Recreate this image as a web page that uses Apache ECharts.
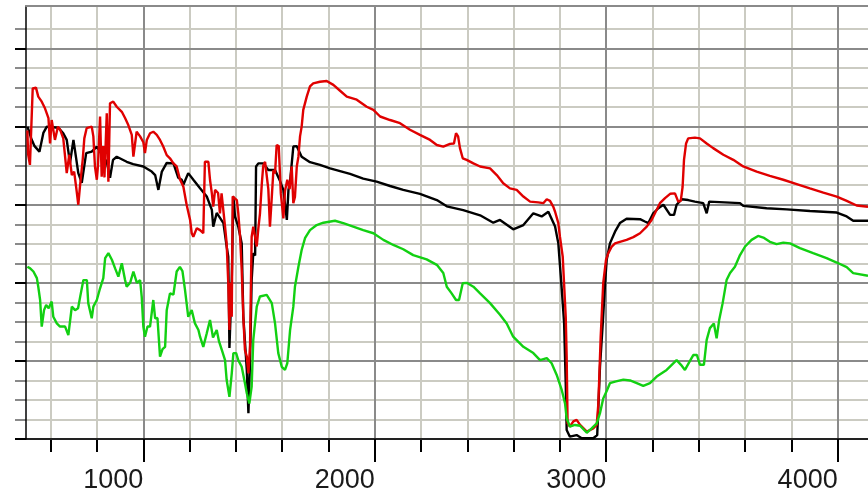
<!DOCTYPE html>
<html><head><meta charset="utf-8">
<script src="https://cdn.jsdelivr.net/npm/echarts@6/dist/echarts.min.js"></script>
<style>html,body{margin:0;padding:0;background:#fff}#c{width:868px;height:491px}</style>
</head><body><div id="c"></div>
<script>
// x range and tick values
const xMin = 493, xMax = 4131;
const yMin = 0, yMax = 110.9;
const xMajorTicks = [1000, 2000, 3000, 4000];
const xMinorTicks = [600, 800, 1200, 1400, 1600, 1800, 2200, 2400, 2600, 2800, 3200, 3400, 3600, 3800];
const yMajorTicks = [0, 20, 40, 60, 80, 100];
const yMinorTicks = [5, 10, 15, 25, 30, 35, 45, 50, 55, 65, 70, 75, 85, 90, 95, 105];

// series: [wavenumber, value]
const blackSeries = [[499,80],[503,80],[507,78.7],[515,77],[530,75],[551,73.6],[568,78.4],[583,80],[633,79.7],[654,78.3],[669,76.6],[683,70.7],[698,76.6],[719,68.1],[734,65.6],[741,65.1],[753,73.2],[777,73.6],[799,74.9],[842,71],[856,66.9],[869,71.5],[885,72.3],[928,71],[956,70.4],[1000,69.8],[1036,68.5],[1051,67.6],[1065,63.8],[1080,68.5],[1101,70.7],[1130,70.6],[1151,66.9],[1166,66.4],[1173,65.1],[1194,68.1],[1216,66.4],[1245,64.2],[1274,62.1],[1296,58.7],[1302,54.4],[1317,57.9],[1346,55.3],[1360,49.3],[1367,46.7],[1372,23.3],[1382,40.7],[1389,62.1],[1396,57],[1410,54.4],[1425,50.1],[1432,31.3],[1447,17.7],[1454,6.6],[1461,20],[1468,40.7],[1475,47.6],[1483,47],[1487,69.8],[1497,70.6],[1518,70.6],[1540,68.9],[1569,68.9],[1591,66],[1605,63.8],[1620,56.1],[1627,63.8],[1634,66],[1648,74.9],[1663,75],[1684,72.3],[1720,70.9],[1763,70.2],[1807,69.3],[1893,67.9],[1950,66.7],[2008,65.9],[2066,64.8],[2123,63.8],[2195,62.8],[2268,61.2],[2311,59.6],[2382,58.6],[2455,57.3],[2512,55.4],[2541,56.1],[2598,53.7],[2606,53.5],[2642,54.8],[2685,57.8],[2721,57],[2750,58.2],[2779,54.4],[2793,50.1],[2808,38.2],[2818,29.7],[2825,14.3],[2829,2.3],[2843,0.6],[2872,1],[2894,0.2],[2944,0.2],[2961,1],[2973,18.5],[2985,29.6],[2995,39.9],[3002,45.9],[3016,50.1],[3038,53.1],[3059,55.3],[3088,56.4],[3146,56.3],[3167,55.7],[3182,55.3],[3203,57.8],[3225,59.1],[3247,60],[3276,57.4],[3293,57.4],[3304,60],[3326,61.4],[3354,61.2],[3383,60.8],[3419,60.4],[3434,57.8],[3445,60.8],[3578,60.4],[3592,59.7],[3693,59.1],[3780,58.8],[3880,58.4],[3996,58],[4039,57],[4067,55.9],[4131,55.9]];

const redSeries = [[499,79],[502,73],[510,70.2],[522,89.8],[536,90],[546,87.7],[561,86.4],[575,84.7],[590,82.2],[597,75.7],[604,81.7],[618,76.6],[631,80],[640,79.3],[654,77],[669,68.1],[680,72.8],[691,67.6],[701,68.5],[712,63.4],[719,60],[726,64.6],[738,71.5],[745,77],[755,79.6],[777,80],[784,77.5],[791,69.8],[799,66.4],[804,70],[813,82.6],[820,67.2],[827,75],[832,67],[842,83.4],[849,65.9],[856,86],[870,86.4],[885,85.1],[907,83.8],[921,82.2],[935,80.4],[950,77.9],[957,72.3],[971,78.7],[986,77.5],[1000,76],[1007,73.2],[1015,76.6],[1029,78.3],[1043,78.7],[1058,77.9],[1072,76.6],[1086,74.9],[1101,72.7],[1115,71.9],[1130,70.6],[1144,69.8],[1158,66.5],[1173,64.6],[1187,60],[1202,56.1],[1209,52.7],[1216,51.8],[1231,54],[1245,53.5],[1259,52.7],[1266,71],[1281,71],[1288,66.4],[1296,62.9],[1302,59.5],[1310,63.8],[1323,63],[1331,57.8],[1338,62.9],[1353,54.4],[1360,50.1],[1367,39.9],[1372,27.9],[1376,40],[1382,31.3],[1386,62.1],[1392,62.5],[1404,61.2],[1410,58],[1418,51.8],[1425,43.3],[1432,31.3],[1439,22.8],[1447,21.1],[1454,16.8],[1461,24],[1468,51.8],[1475,54.4],[1483,54],[1490,49.3],[1497,54],[1504,57.8],[1512,65.5],[1518,70],[1526,71],[1533,70.6],[1540,64],[1547,54.4],[1555,62],[1562,68.9],[1569,68],[1576,75.3],[1585,75],[1594,62.9],[1605,56.5],[1612,63.5],[1622,66.4],[1632,64],[1641,69.8],[1648,60.4],[1655,62],[1663,69.8],[1670,72.3],[1677,77.5],[1684,80],[1691,84.3],[1706,87.7],[1720,90.3],[1734,91.1],[1763,91.5],[1792,91.7],[1821,90.7],[1850,89.2],[1879,87.7],[1922,86.9],[1965,85.1],[1994,84.3],[2023,82.6],[2066,81.7],[2109,80.9],[2152,79.2],[2195,77.9],[2239,76.6],[2268,75.3],[2296,74.9],[2325,75.6],[2342,75.7],[2351,78.3],[2360,77.5],[2368,74.5],[2380,71.9],[2397,71.5],[2426,70.6],[2455,69.8],[2498,69.3],[2527,67.6],[2555,65.5],[2584,64.2],[2613,63.8],[2642,62.1],[2671,60.8],[2706,60.6],[2728,60.4],[2743,61.4],[2757,61],[2771,59.5],[2779,58.2],[2793,55.3],[2800,51.8],[2812,46.7],[2825,31.3],[2829,21.1],[2833,4],[2843,3.2],[2858,4.5],[2872,4.9],[2887,3.6],[2916,1.9],[2944,2.7],[2959,3.6],[2966,9.1],[2976,26.2],[2987,39.9],[2999,45.9],[3009,47.6],[3024,49.3],[3038,50.1],[3059,50.5],[3088,51],[3117,51.7],[3146,52.7],[3175,54.4],[3196,56.1],[3218,58.7],[3232,60.4],[3254,61.7],[3276,62.8],[3297,62.9],[3311,60.8],[3322,61],[3330,64.6],[3336,71.5],[3345,75.7],[3354,77],[3383,77.2],[3405,77],[3434,75.7],[3462,74.5],[3506,72.8],[3549,71.5],[3592,69.8],[3650,68.5],[3707,67.4],[3765,66.4],[3823,65.3],[3880,64.2],[3938,63.1],[3996,62.1],[4039,61],[4082,59.8],[4131,59.5]];

const greenSeries = [[499,44.1],[511,43.7],[525,42.9],[540,41.2],[546,39],[554,35.6],[561,28.8],[571,33],[580,34.3],[591,33.5],[604,35.2],[611,31.3],[626,29.6],[640,28.8],[662,28.8],[676,26.6],[691,33.9],[705,33],[718,33.5],[727,36.4],[741,40.7],[756,40.7],[762,34.8],[777,30.9],[784,33.9],[799,35.6],[813,38.6],[827,41.2],[835,46.3],[849,47.6],[864,45.9],[878,43.7],[892,41.6],[907,45],[921,40.7],[928,39],[943,40],[957,42.9],[972,40],[986,40.7],[993,36.4],[1000,28.8],[1007,26.2],[1018,28.8],[1029,28.8],[1043,35.6],[1051,30.9],[1061,31],[1072,21.1],[1083,23],[1094,23.6],[1101,33],[1115,37.3],[1130,37],[1144,42.9],[1158,44.1],[1169,43],[1180,38.2],[1194,31.3],[1209,33],[1223,29.6],[1238,27.9],[1245,26.2],[1259,23.6],[1274,27.1],[1288,30.5],[1301,26],[1317,27.9],[1327,25],[1339,22.8],[1353,20.2],[1360,15.1],[1372,10.8],[1382,16.8],[1389,22],[1401,22],[1410,20.2],[1425,18.5],[1439,14.3],[1447,11.7],[1458,9.1],[1468,13.4],[1475,25.4],[1490,33.9],[1504,36.5],[1533,36.9],[1555,34.8],[1569,29.6],[1583,22],[1598,18.5],[1612,17.7],[1622,19.4],[1634,27.9],[1648,33.9],[1655,39],[1670,44.1],[1684,48.4],[1699,51.5],[1720,53.5],[1749,54.8],[1778,55.4],[1828,55.9],[1867,55.2],[1907,54.4],[1950,53.5],[1994,52.7],[2037,51],[2080,49.7],[2123,48.6],[2166,47.1],[2224,46],[2268,44.6],[2296,42.5],[2311,39],[2332,37.3],[2351,35.6],[2364,35.6],[2380,39.9],[2397,40],[2426,39],[2455,37.3],[2498,34.8],[2541,31.8],[2570,29.6],[2598,26.2],[2642,23.6],[2685,22],[2714,20.2],[2743,20.7],[2764,19.4],[2786,16.4],[2808,12.5],[2822,9.1],[2829,5.3],[2843,3.2],[2865,3.6],[2887,3.4],[2916,1.6],[2937,2.7],[2959,4],[2973,6.6],[2987,10.4],[3002,12.3],[3016,14.3],[3038,14.7],[3074,15.2],[3103,15],[3132,14.3],[3160,13.6],[3189,14.3],[3218,16],[3261,17.7],[3304,20.2],[3323,19],[3340,17.7],[3357,19.5],[3376,21.5],[3392,21.5],[3405,19],[3422,19],[3434,25.4],[3448,28.4],[3465,29.6],[3477,25.8],[3488,30.5],[3503,34.8],[3520,40.7],[3535,42.5],[3556,44.1],[3578,47.1],[3600,49.3],[3628,51],[3656,52],[3682,51.5],[3707,50.5],[3736,49.9],[3765,50.3],[3794,50.1],[3837,48.9],[3894,47.6],[3952,46.3],[3996,45.2],[4039,44],[4067,42.5],[4131,41.8]];

const MAJOR = '#8a8a8a', MINOR = '#cbcbc2';
const chart = echarts.init(document.getElementById('c'), null, {renderer: 'canvas'});
const xBase = {type: 'value', min: xMin, max: xMax, gridIndex: 0};
const yBase = {type: 'value', min: yMin, max: yMax, gridIndex: 0, position: 'left'};
chart.setOption({
  animation: false,
  backgroundColor: '#ffffff',
  grid: {left: 26, right: 0, top: 6, bottom: 52, containLabel: false, outerBoundsMode: 'none'},
  xAxis: [
    Object.assign({}, xBase, {
      position: 'bottom', z: 0,
      axisLine: {show: false},
      axisTick: {show: true, customValues: xMinorTicks, length: 13, lineStyle: {color: '#000', width: 2}},
      axisLabel: {show: false},
      splitLine: {show: true, lineStyle: {color: MINOR, width: 2}}
    }),
    Object.assign({}, xBase, {
      position: 'bottom', z: 2,
      axisLine: {show: true, onZero: false, lineStyle: {color: '#000', width: 1.5}},
      axisTick: {show: true, customValues: xMajorTicks, length: 23, lineStyle: {color: '#000', width: 2}},
      axisLabel: {show: true, customValues: xMajorTicks, formatter: function (v) { return String(v); }, fontSize: 27, fontFamily: 'Liberation Sans, Arial, sans-serif', color: '#1a1a1a', align: 'right', margin: 28},
      splitLine: {show: true, lineStyle: {color: MAJOR, width: 2}}
    }),
    Object.assign({}, xBase, {
      position: 'top', z: 2,
      axisLine: {show: true, onZero: false, lineStyle: {color: MAJOR, width: 2}},
      axisTick: {show: false}, axisLabel: {show: false}, splitLine: {show: false}
    })
  ],
  yAxis: [
    Object.assign({}, yBase, {
      z: 0,
      axisLine: {show: false},
      axisTick: {show: true, customValues: yMinorTicks, length: 11, lineStyle: {color: '#8a8a8a', width: 2}},
      axisLabel: {show: false},
      splitLine: {show: true, lineStyle: {color: MINOR, width: 2}}
    }),
    Object.assign({}, yBase, {
      z: 2,
      axisLine: {show: true, onZero: false, lineStyle: {color: '#000', width: 1.5}},
      axisTick: {show: true, customValues: yMajorTicks, length: 11, lineStyle: {color: '#000', width: 2}},
      axisLabel: {show: false},
      splitLine: {show: true, lineStyle: {color: MAJOR, width: 2}}
    })
  ],
  series: [
    {name: 'black', type: 'line', xAxisIndex: 1, yAxisIndex: 1, data: blackSeries, symbol: 'none', z: 3, lineStyle: {color: '#000000', width: 2.4}},
    {name: 'red', type: 'line', xAxisIndex: 1, yAxisIndex: 1, data: redSeries, symbol: 'none', z: 4, lineStyle: {color: '#e00000', width: 2.4}},
    {name: 'green', type: 'line', xAxisIndex: 1, yAxisIndex: 1, data: greenSeries, symbol: 'none', z: 5, lineStyle: {color: '#12d012', width: 2.4}}
  ]
});
</script></body></html>
